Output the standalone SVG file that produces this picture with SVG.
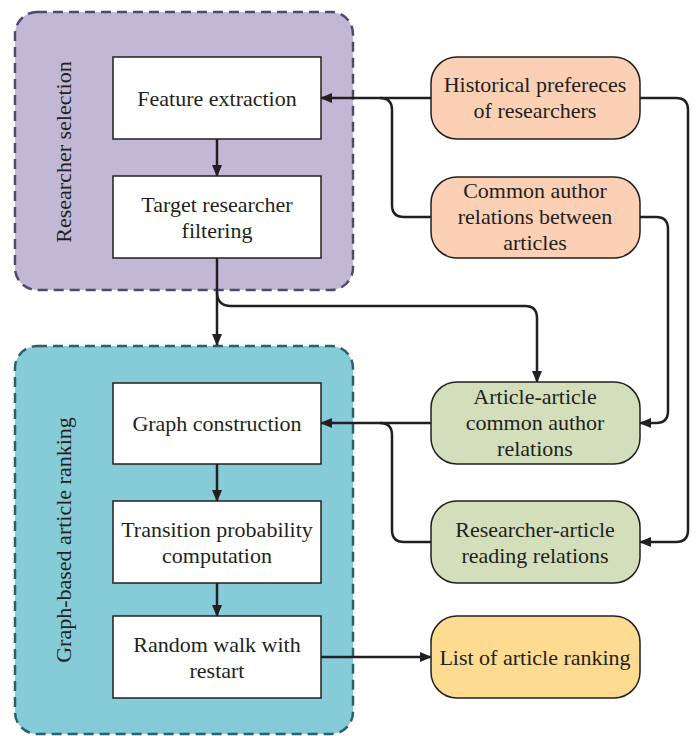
<svg xmlns="http://www.w3.org/2000/svg" width="698" height="736" viewBox="0 0 698 736">
<style>
text{font-family:"Liberation Serif","Times New Roman",serif;font-size:22px;fill:#231f20;text-anchor:middle}
.box{fill:#fff;stroke:#231f20;stroke-width:1.5}
.rn{stroke:#231f20;stroke-width:1.5}
.c{fill:none;stroke:#231f20;stroke-width:2.5}
</style>
<defs>
<marker id="ah" markerWidth="12" markerHeight="10" refX="11" refY="5" orient="auto" markerUnits="userSpaceOnUse">
<path d="M0,0 L12,5 L0,10 Z" fill="#231f20"/>
</marker>
</defs>
<g id="grp-researcher">
<rect x="15" y="12" width="338" height="278" rx="22" fill="#c0b8d4" stroke="#52476e" stroke-width="2.5" stroke-dasharray="10,6"/>
<text transform="translate(71,152) rotate(-90)">Researcher selection</text>
</g>
<g id="grp-ranking">
<rect x="15" y="346" width="338" height="388" rx="22" fill="#85cbd8" stroke="#2b5f6e" stroke-width="2.5" stroke-dasharray="10,6"/>
<text transform="translate(71,540) rotate(-90)">Graph-based article ranking</text>
</g>
<g id="connectors">
<path class="c" d="M431,98 H321" marker-end="url(#ah)"/>
<path class="c" d="M431,217 H404 Q392,217 392,205 V110 Q392,98 380,98"/>
<path class="c" d="M640,98 H676 Q688,98 688,110 V530 Q688,542 676,542 H640" marker-end="url(#ah)"/>
<path class="c" d="M640,217 H656 Q668,217 668,229 V411 Q668,423 656,423 H640" marker-end="url(#ah)"/>
<path class="c" d="M217,139 V176" marker-end="url(#ah)"/>
<path class="c" d="M217,258 V345" marker-end="url(#ah)"/>
<path class="c" d="M217,292 Q217,306 231,306 H525 Q537,306 537,318 V382" marker-end="url(#ah)"/>
<path class="c" d="M431,423 H321" marker-end="url(#ah)"/>
<path class="c" d="M431,542 H404 Q392,542 392,530 V435 Q392,423 380,423"/>
<path class="c" d="M217,464 V501" marker-end="url(#ah)"/>
<path class="c" d="M217,583 V616" marker-end="url(#ah)"/>
<path class="c" d="M321,657 H431" marker-end="url(#ah)"/>
</g>
<g id="n-feature">
<rect class="box" x="113" y="57" width="208" height="82"/>
<text x="217" y="106">Feature extraction</text>
</g>
<g id="n-target">
<rect class="box" x="113" y="176" width="208" height="82"/>
<text x="217" y="212">Target researcher</text>
<text x="217" y="238">filtering</text>
</g>
<g id="n-graph">
<rect class="box" x="113" y="383" width="208" height="81"/>
<text x="217" y="431">Graph construction</text>
</g>
<g id="n-transition">
<rect class="box" x="113" y="501" width="208" height="82"/>
<text x="217" y="537">Transition probability</text>
<text x="217" y="563">computation</text>
</g>
<g id="n-random">
<rect class="box" x="113" y="616" width="208" height="82"/>
<text x="217" y="652">Random walk with</text>
<text x="217" y="678">restart</text>
</g>
<g id="n-historical">
<rect class="rn" x="431" y="57" width="209" height="82" rx="26" fill="#fbd0b5"/>
<text x="535" y="92">Historical prefereces</text>
<text x="535" y="118">of researchers</text>
</g>
<g id="n-common">
<rect class="rn" x="431" y="177" width="209" height="81" rx="26" fill="#fbd0b5"/>
<text x="535" y="198">Common author</text>
<text x="535" y="224">relations between</text>
<text x="535" y="250">articles</text>
</g>
<g id="n-articlearticle">
<rect class="rn" x="431" y="382" width="209" height="82" rx="26" fill="#d3deba"/>
<text x="535" y="404">Article-article</text>
<text x="535" y="430">common author</text>
<text x="535" y="456">relations</text>
</g>
<g id="n-reading">
<rect class="rn" x="431" y="501" width="209" height="82" rx="26" fill="#d3deba"/>
<text x="535" y="537">Researcher-article</text>
<text x="535" y="563">reading relations</text>
</g>
<g id="n-list">
<rect class="rn" x="431" y="616" width="209" height="82" rx="26" fill="#fddb90"/>
<text x="535" y="665">List of article ranking</text>
</g>
</svg>
